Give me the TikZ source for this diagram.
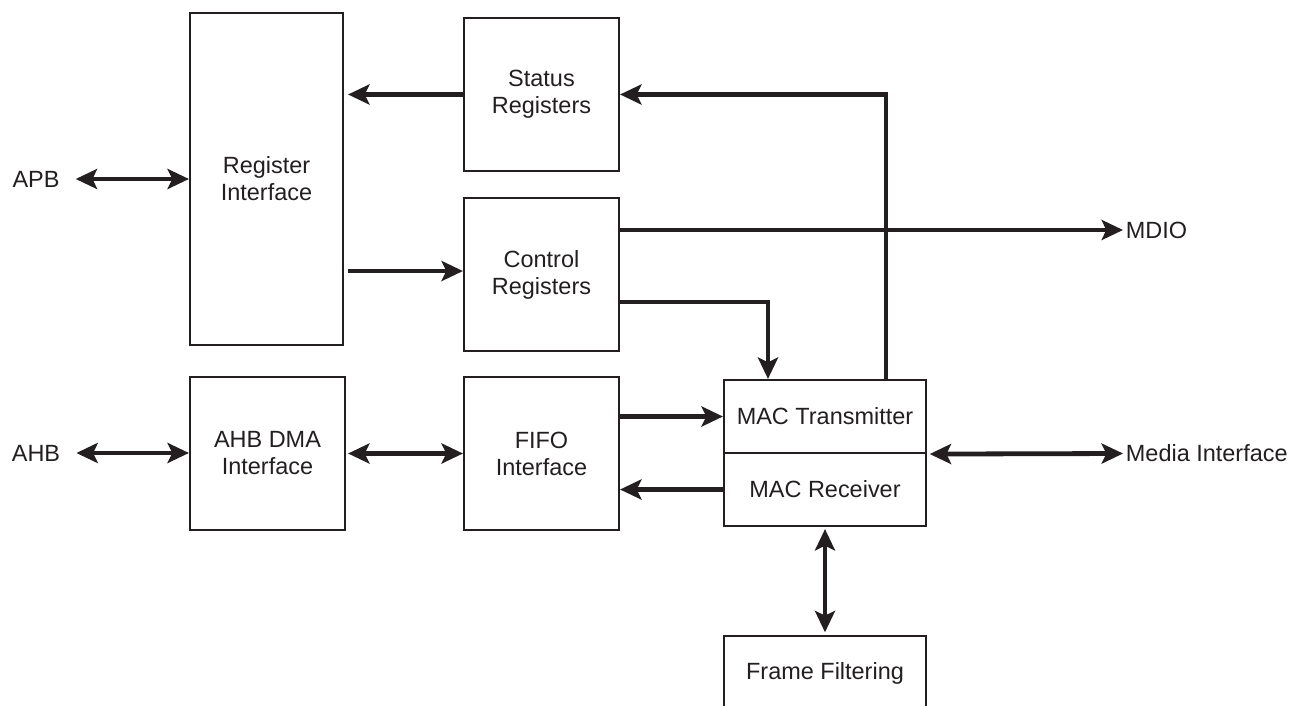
\documentclass[tikz,border=0pt]{standalone}
\usepackage{fontspec}
\setmainfont{Liberation Sans}
\usetikzlibrary{arrows.meta}
\definecolor{ink}{RGB}{35,31,32}
\begin{document}
\begin{tikzpicture}[x=0.75pt,y=-0.75pt,
  txt/.style={font=\fontsize{17.6}{20.3}\selectfont, text=ink, align=center},
  box/.style={txt, draw=ink, line width=1.6pt, inner sep=0pt},
  sqbox/.style={box, minimum width=116.25pt, minimum height=114.75pt},
  macbox/.style={box, minimum width=151.5pt, minimum height=54.75pt},
  lbl/.style={txt, inner sep=2pt},
  tipA/.tip={Stealth[length=16pt,width=15pt,inset=3.5pt]},
  conn/.style={draw=ink, line width=3.6pt},
  arr/.style={conn, -tipA},
  dbl/.style={conn, tipA-tipA}]
\useasboundingbox (0,0) rectangle (1292,706);
\clip (0,0) rectangle (1292,706);

% blocks
\node[box, minimum width=114.75pt, minimum height=249pt] (reg) at (266.5,179) {Register\\Interface};
\node[sqbox] (status) at (541.5,94.5) {Status\\Registers};
\node[sqbox] (ctrl) at (541.5,274.5) {Control\\Registers};
\node[sqbox] (ahb) at (267.5,453.5) {AHB DMA\\Interface};
\node[sqbox] (fifo) at (541.5,453.5) {FIFO\\Interface};
\node[macbox] (mact) at (825,416.5) {MAC Transmitter};
\node[macbox] (macr) at (825,489.5) {MAC Receiver};
\node[box, minimum width=151.5pt, minimum height=55.5pt] (ff) at (825,673) {Frame Filtering};

% external labels
\node[lbl] (apb) at (36,179) {APB};
\node[lbl] (ahbl) at (36,453) {AHB};
\node[lbl, anchor=west] (mdio) at (1123,230) {MDIO};
\node[lbl, anchor=west] (media) at (1123,453.5) {Media Interface};

% bend points
\coordinate (b1) at (768,302);
\coordinate (b2) at (886,94.5);

% connectors
\draw[dbl, shorten <=10pt] (apb.east) -- (reg.west |- apb.east);
\draw[dbl, shorten <=10pt] (ahbl.east) -- (ahb.west |- ahbl.east);
\draw[arr, shorten >=3pt] (status.west) -- (reg.east |- status.west);
\draw[arr, shorten <=3pt] ([yshift=2.6pt]reg.east |- ctrl.west) -- ([yshift=2.6pt]ctrl.west);
\draw[arr] (ctrl.east |- mdio.west) -- (mdio.west);
\draw[arr] (ctrl.east |- b1) -| (mact.north -| b1);
\draw[arr] (mact.north -| b2) -- (b2) -- (status.east);
\draw[dbl, shorten <=1.5pt] (ahb.east) -- (fifo.west);
\draw[arr] (fifo.east |- mact.west) -- (mact.west);
\draw[arr] (macr.west) -- (fifo.east |- macr.west);
\draw[dbl, shorten <=2pt] (mact.south east) -- (media.west);
\draw[dbl, shorten <=1.5pt, shorten >=2pt] (macr.south) -- (ff.north);
\end{tikzpicture}
\end{document}
